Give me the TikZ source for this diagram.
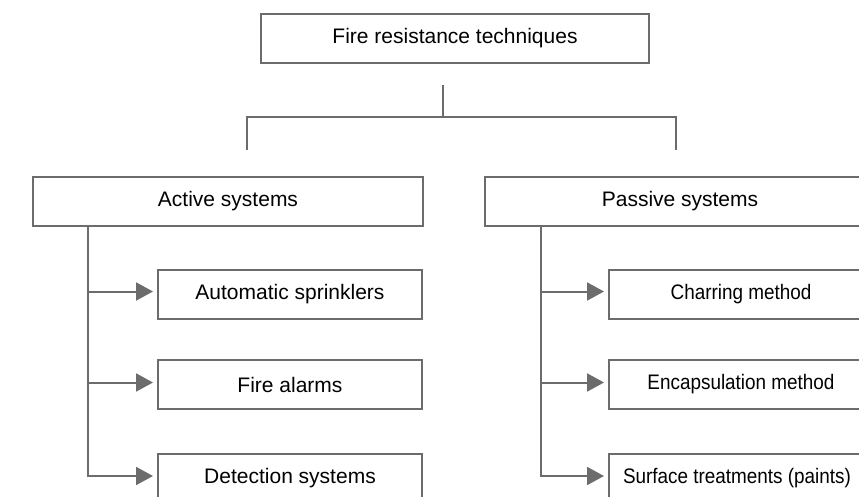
\documentclass[tikz,border=0pt]{standalone}
\usepackage{fontspec}
\setmainfont{Liberation Sans}
\usetikzlibrary{arrows.meta}
\definecolor{linegray}{RGB}{108,108,108}
\newcommand{\narrowtext}[1]{\scalebox{0.9}[1]{#1}}
\begin{document}
\begin{tikzpicture}[x=1pt,y=-1pt,
  box/.style={draw=linegray, line width=2pt, fill=white, minimum height=49pt,
    inner sep=0pt, font=\fontsize{21}{25}\selectfont, text=black},
  conn/.style={draw=linegray, line width=2pt},
  arr/.style={conn, -{Triangle[length=17pt,width=18pt]}, shorten >=4pt}]
\useasboundingbox (0,0) rectangle (859,497);
\clip (0,0) rectangle (859,497);
% nodes
\node[box, minimum width=388pt] (top) at (455,38.5) {Fire resistance techniques};
\node[box, minimum width=390pt] (active) at (228,201.5) {Active systems};
\node[box, minimum width=390pt] (passive) at (680,201.5) {Passive systems};
\node[box, minimum width=264pt] (s1) at (290,294.5) {Automatic sprinklers};
\node[box, minimum width=264pt] (s2) at (290,384.5) {Fire alarms};
\node[box, minimum width=264pt] (s3) at (290,478.5) {Detection systems};
\node[box, minimum width=264pt] (p1) at (741,294.5) {\narrowtext{Charring method}};
\node[box, minimum width=264pt] (p2) at (741,384.5) {\narrowtext{Encapsulation method}};
\node[box, minimum width=256pt] (p3) at (737,478.5) {\narrowtext{Surface treatments (paints)}};
% top connectors
\coordinate (j) at (443,117);
\coordinate (jtop) at (443,85);
\coordinate (la) at (247,150);
\coordinate (ra) at (676,150);
\draw[conn] (jtop) -- (j);
\draw[conn] (la) |- (j) -| (ra);
% active branch
\draw[arr] ([xshift=56pt]active.south west) |- ([yshift=3pt]s1.west);
\draw[arr] ([xshift=56pt]active.south west) |- ([yshift=2pt]s2.west);
\draw[arr] ([xshift=56pt]active.south west) |- ([yshift=2.5pt]s3.west);
% passive branch
\draw[arr] ([xshift=57pt]passive.south west) |- ([yshift=3pt]p1.west);
\draw[arr] ([xshift=57pt]passive.south west) |- ([yshift=2pt]p2.west);
\draw[arr] ([xshift=57pt]passive.south west) |- ([yshift=2.5pt]p3.west);
\end{tikzpicture}
\end{document}
